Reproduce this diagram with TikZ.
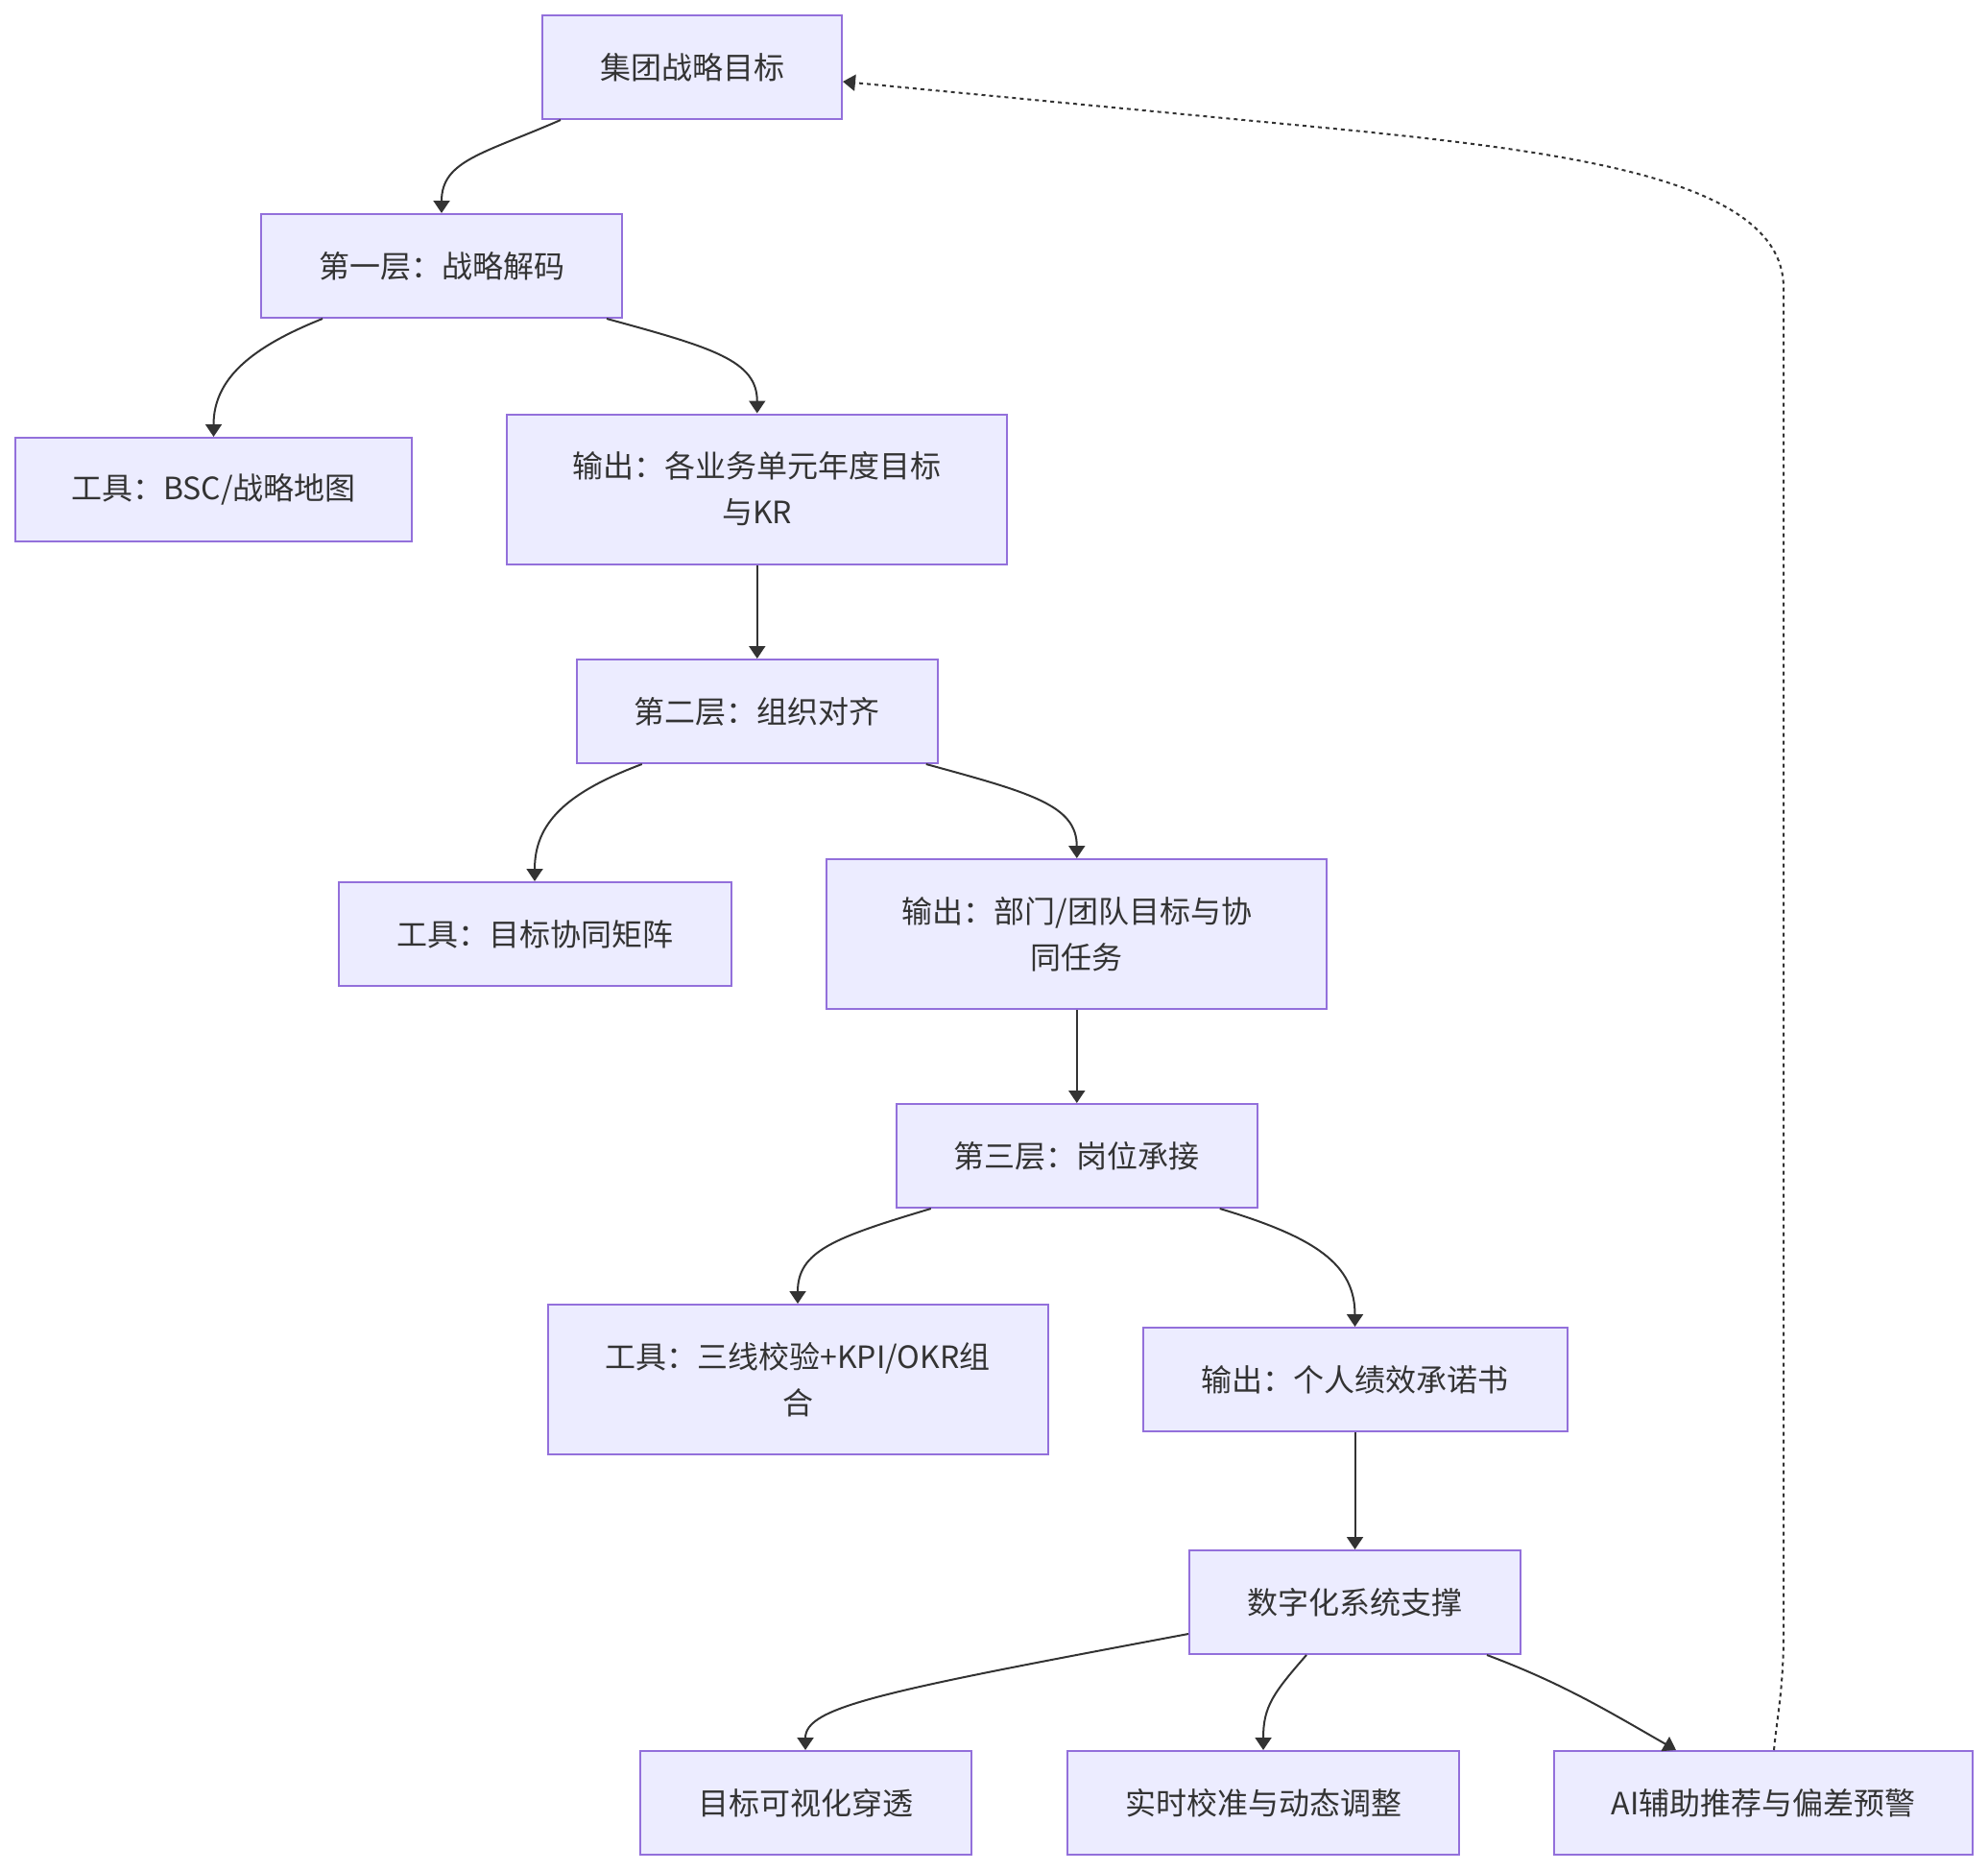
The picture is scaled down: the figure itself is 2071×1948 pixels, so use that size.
\documentclass[tikz,border=0pt]{standalone}
\usepackage{fontspec}
\setmainfont{Noto Sans CJK SC}
\usetikzlibrary{arrows.meta,calc}
\definecolor{nodefill}{HTML}{ECECFF}
\definecolor{nodeline}{HTML}{9370DB}
\definecolor{ink}{HTML}{333333}
\begin{document}
\begin{tikzpicture}[x=0.5pt,y=-0.5pt,
  box/.style={draw=nodeline,fill=nodefill,line width=1pt,text=ink,
    font=\fontsize{16pt}{24pt}\selectfont,align=center,inner sep=0pt,
    minimum height=54pt},
  tall/.style={minimum height=78pt},
  edge/.style={draw=ink,line width=1pt,-{Triangle[length=6.5pt,width=8.5pt]}},
  dotline/.style={draw=ink,line width=1pt,dash pattern=on 2pt off 2pt,
    -{Triangle[length=6.5pt,width=8.5pt]}}]
\useasboundingbox (0,0) rectangle (2071,1948);

\node[box,minimum width=156pt] (n1) at (721,70) {集团战略目标};
\node[box,minimum width=188pt] (n2) at (460,277) {第一层：战略解码};
\node[box,minimum width=206.5pt] (n3) at (222.5,510) {工具：BSC/战略地图};
\node[box,tall,minimum width=260.5pt] (n4) at (788.75,509.5) {输出：各业务单元年度目标\\与KR};
\node[box,minimum width=188pt] (n5) at (788.75,741) {第二层：组织对齐};
\node[box,minimum width=204.5pt] (n6) at (557,973) {工具：目标协同矩阵};
\node[box,tall,minimum width=260.5pt] (n7) at (1121.75,973) {输出：部门/团队目标与协\\同任务};
\node[box,minimum width=188pt] (n8) at (1121.75,1204) {第三层：岗位承接};
\node[box,tall,minimum width=260.5pt] (n9) at (831,1437) {工具：三线校验+KPI/OKR组\\合};
\node[box,minimum width=221pt] (n10) at (1411.5,1437) {输出：个人绩效承诺书};
\node[box,minimum width=172.5pt] (n11) at (1411.5,1669) {数字化系统支撑};
\node[box,minimum width=172.5pt] (n12) at (839,1878) {目标可视化穿透};
\node[box,minimum width=204pt] (n13) at (1316,1878) {实时校准与动态调整};
\node[box,minimum width=218pt] (n14) at (1837,1878) {AI辅助推荐与偏差预警};

\draw[edge] ($(n1.south west)+(20,0)$) .. controls +(-80,35) and +(0,-55) .. (n2.north);
\draw[edge] ($(n2.south west)+(65,0)$) .. controls +(-75,30) and +(0,-60) .. (n3.north);
\draw[edge] ($(n2.south east)+(-17,0)$) .. controls +(110,30) and +(0,-55) .. (n4.north);
\draw[edge] (n4.south) -- (n5.north);
\draw[edge] ($(n5.south west)+(69,0)$) .. controls +(-80,30) and +(0,-60) .. (n6.north);
\draw[edge] ($(n5.south east)+(-13,0)$) .. controls +(110,30) and +(0,-55) .. (n7.north);
\draw[edge] (n7.south) -- (n8.north);
\draw[edge] ($(n8.south west)+(37,0)$) .. controls +(-100,30) and +(0,-55) .. (n9.north);
\draw[edge] ($(n8.south east)+(-40,0)$) .. controls +(100,30) and +(0,-65) .. (n10.north);
\draw[edge] (n10.south) -- (n11.north);
\draw[edge] ($(n11.south west)+(0,-22)$) .. controls +(-320,60) and +(0,-45) .. (n12.north);
\draw[edge] ($(n11.south west)+(123,0)$) .. controls +(-35,40) and +(0,-45) .. (n13.north);
\draw[edge] ($(n11.south east)+(-36,0)$) .. controls +(80,30) and +(-70,-40) .. ($(n14.north west)+(128,0)$);
\draw[dotline] ($(n14.north west)+(230,0)$) .. controls (1851,1790) and (1858,1760) .. (1858,1700)
  -- (1858,300) .. controls (1858,190) and (1650,160) .. (1400,135)
  -- ($(n1.east)+(0,15)$);
\end{tikzpicture}
\end{document}
